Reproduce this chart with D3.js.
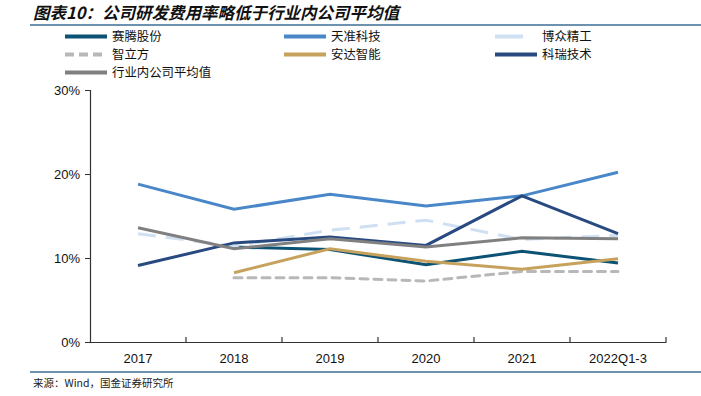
<!DOCTYPE html>
<html>
<head>
<meta charset="utf-8">
<script src="https://cdn.jsdelivr.net/npm/d3@7"></script>
<style>
  body { margin: 0; background: #fff; }
  svg { display: block; font-family: "Liberation Sans", Arial, sans-serif; }
  .cn { font-family: "Noto Sans CJK SC", sans-serif; }
</style>
</head>
<body>
<div id="chart"></div>
<script>
var width = 701, height = 396;

var years = ["2017", "2018", "2019", "2020", "2021", "2022Q1-3"];
var yTicks = [0, 0.1, 0.2, 0.3];

// null = no data
var saiteng  = [null, 0.113, 0.110, 0.092, 0.108, 0.094];
var tianzhun = [0.188, 0.158, 0.176, 0.162, 0.174, 0.202];
var bozhong  = [0.129, 0.114, 0.133, 0.145, 0.122, 0.127];
var zhilifang = [null, 0.0765, 0.0765, 0.0726, 0.084, 0.084];
var anda     = [null, 0.0825, 0.111, 0.096, 0.0865, 0.099];
var kerui    = [0.091, 0.118, 0.125, 0.115, 0.174, 0.129];
var average  = [0.136, 0.111, 0.123, 0.113, 0.124, 0.123];

var series = [
  {name: "赛腾股份", values: saiteng, color: "#0b5275", dash: null},
  {name: "天准科技", values: tianzhun, color: "#4a87c8", dash: null},
  {name: "博众精工", values: bozhong, color: "#cfe0f3", dash: "18,10"},
  {name: "智立方", values: zhilifang, color: "#b8b8b8", dash: "8,6"},
  {name: "安达智能", values: anda, color: "#c6a25c", dash: null},
  {name: "科瑞技术", values: kerui, color: "#284a80", dash: null},
  {name: "行业内公司平均值", values: average, color: "#808080", dash: null}
];

var svg = d3.select("#chart").append("svg")
  .attr("width", width).attr("height", height);

// title + rules
svg.append("text").attr("class", "cn")
  .attr("x", 33).attr("y", 19)
  .style("font-size", "16.5px").style("font-style", "italic").style("font-weight", "bold")
  .attr("fill", "#111")
  .text("图表10：公司研发费用率略低于行业内公司平均值");
svg.append("line").attr("x1", 30).attr("x2", 701).attr("y1", 25).attr("y2", 25)
  .attr("stroke", "#3d6e95").attr("stroke-width", 1.5);
svg.append("line").attr("x1", 30).attr("x2", 701).attr("y1", 372).attr("y2", 372)
  .attr("stroke", "#3d6e95").attr("stroke-width", 1.5);
svg.append("text").attr("class", "cn")
  .attr("x", 33).attr("y", 387)
  .style("font-size", "10.5px").attr("fill", "#222")
  .text("来源：Wind，国金证券研究所");

// legend
var legendPos = [[65, 36.5], [284, 36.5], [495, 36.5], [65, 54.5], [284, 54.5], [495, 54.5], [65, 72.5]];
var leg = svg.append("g").selectAll("g").data(series).enter().append("g")
  .attr("transform", function(d, i) { return "translate(" + legendPos[i][0] + "," + legendPos[i][1] + ")"; });
leg.append("line")
  .attr("x1", 0).attr("x2", 42).attr("y1", 0).attr("y2", 0)
  .attr("stroke", function(d) { return d.color; })
  .attr("stroke-width", 4)
  .attr("stroke-dasharray", function(d) { return d.dash ? (d.name == "智立方" ? "9,5" : "28,14") : null; });
leg.append("text").attr("class", "cn")
  .attr("x", 47).attr("y", 0).attr("dy", "0.35em")
  .style("font-size", "12.4px").attr("fill", "#111")
  .text(function(d) { return d.name; });

// scales
var x = d3.scaleBand().domain(years).range([90, 666]);
var y = d3.scaleLinear().domain([0, 0.3]).range([342, 90]);

var yAxis = svg.append("g").attr("transform", "translate(90,0)")
  .call(d3.axisLeft(y).tickValues(yTicks).tickFormat(d3.format(".0%")).tickSize(5));
var xAxis = svg.append("g").attr("transform", "translate(0,342)")
  .call(d3.axisBottom(x).tickSize(0).tickPadding(12));
[yAxis, xAxis].forEach(function(a) {
  a.select(".domain").attr("stroke", "#333").attr("stroke-width", 1.2);
  a.selectAll("line").attr("stroke", "#333");
  a.selectAll("text").style("font-size", "13px").attr("fill", "#111")
    .style("font-family", "'Liberation Sans', Arial, sans-serif");
});
yAxis.selectAll("text").attr("x", -10);

// category boundary ticks pointing up
var bounds = years.map(function(d) { return x(d); }).concat([x.range()[1]]);
svg.append("g").selectAll("line").data(bounds.slice(1)).enter().append("line")
  .attr("x1", function(d) { return d; }).attr("x2", function(d) { return d; })
  .attr("y1", 342).attr("y2", 337)
  .attr("stroke", "#333").attr("stroke-width", 1.2);

// lines
var line = d3.line()
  .defined(function(d) { return d != null; })
  .x(function(d, i) { return x(years[i]) + x.bandwidth() / 2; })
  .y(function(d) { return y(d); });

svg.append("g").selectAll("path").data(series).enter().append("path")
  .attr("d", function(d) { return line(d.values); })
  .attr("fill", "none")
  .attr("stroke", function(d) { return d.color; })
  .attr("stroke-width", 3)
  .attr("stroke-linecap", function(d) { return d.name == "智立方" ? "round" : "butt"; })
  .attr("stroke-dasharray", function(d) { return d.dash; });
</script>
</body>
</html>
